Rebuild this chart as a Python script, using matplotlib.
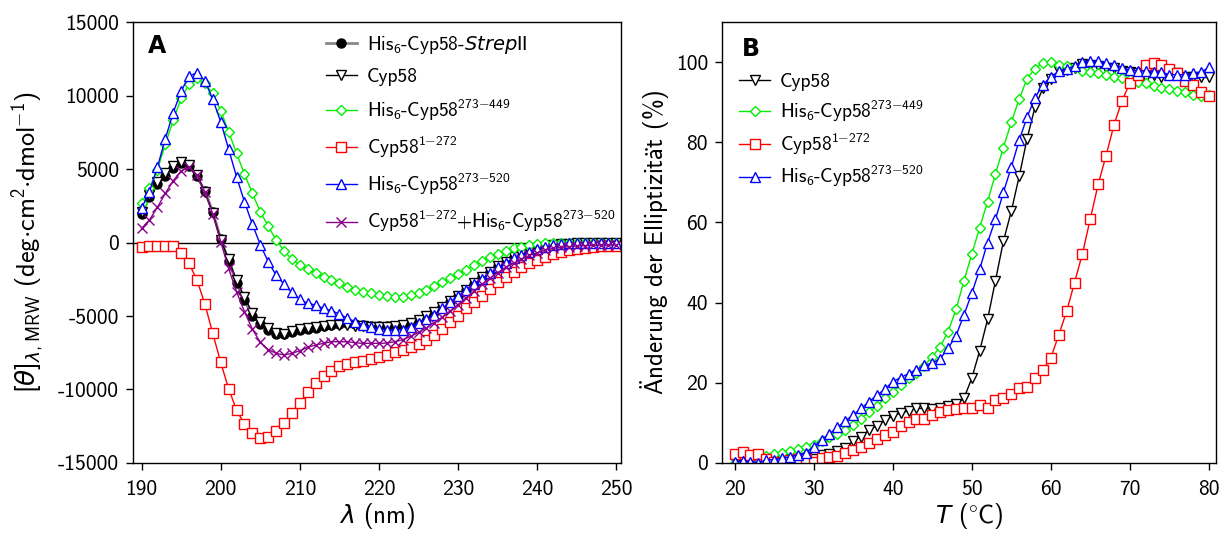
import warnings
import numpy as np
import matplotlib
matplotlib.use("Agg")
import matplotlib.pyplot as plt

warnings.filterwarnings("ignore")

# CM sans for text, DejaVu as fallback for missing glyphs
plt.rcParams["font.family"] = ["cmss10", "DejaVu Sans"]
plt.rcParams["mathtext.fontset"] = "custom"
plt.rcParams["mathtext.rm"] = "cmss10"
plt.rcParams["mathtext.sf"] = "cmss10"
plt.rcParams["mathtext.it"] = "DejaVu Sans:italic"
plt.rcParams["mathtext.fallback"] = "cm"
plt.rcParams["axes.unicode_minus"] = False

# ---- panel A: CD spectra ----
wl = np.arange(190, 251)

strep = [1950, 3100, 3950, 4500, 5100, 5400, 5200, 4500, 3500, 2100,
         250, -1250, -2750, -3900, -5000, -5550, -5950, -6250, -6250, -6100,
         -5950, -5850, -5800, -5700, -5600, -5550, -5500, -5550, -5600, -5650,
         -5700, -5700, -5700, -5600, -5450, -5250, -5050, -4750, -4420, -4030,
         -3650, -3220, -2800, -2350, -1990, -1600, -1310, -1010, -780, -580,
         -420, -290, -190, -120, -80, -60, -50, -40, -30, -30, -30]
cyp58 = [2100, 3200, 4100, 4700, 5200, 5450, 5250, 4600, 3450, 2000,
         200, -1150, -2550, -3700, -4800, -5400, -5800, -6150, -6200, -6050,
         -5900, -5800, -5750, -5650, -5600, -5600, -5600, -5650, -5700, -5750,
         -5750, -5750, -5700, -5600, -5450, -5250, -5000, -4700, -4370, -4000,
         -3620, -3200, -2780, -2350, -1980, -1600, -1300, -1000, -780, -580,
         -420, -290, -190, -110, -70, -50, -40, -30, -20, -20, -20]
c449 = [2670, 3690, 4930, 6680, 8330, 9810, 10760, 11170, 10830, 10150,
        8970, 7540, 6070, 4660, 3350, 2100, 1120, 170, -560, -1140,
        -1530, -1820, -2050, -2330, -2550, -2780, -3000, -3230, -3350, -3410,
        -3570, -3630, -3710, -3690, -3570, -3430, -3210, -2980, -2700, -2400,
        -2130, -1850, -1560, -1260, -1010, -780, -580, -400, -290, -170,
        -100, -60, -40, -30, -20, -10, 0, 0, 0, 0, 0]
c272 = [-300, -250, -250, -230, -250, -690, -1420, -2550, -4180, -6180,
        -8150, -9940, -11400, -12350, -12980, -13300, -13210, -12850, -12300, -11620,
        -10900, -10190, -9580, -9080, -8720, -8400, -8290, -8110, -8040, -7950,
        -7770, -7650, -7450, -7300, -7120, -6900, -6650, -6290, -5870, -5440,
        -4970, -4480, -4040, -3620, -3190, -2710, -2330, -1990, -1690, -1420,
        -1190, -960, -780, -650, -530, -440, -370, -290, -240, -220, -220]
c520 = [2330, 3460, 5110, 7060, 8830, 10300, 11330, 11550, 11010, 9740,
        8220, 6360, 4480, 2780, 1250, -140, -1300, -2220, -2840, -3400,
        -3870, -4140, -4250, -4480, -4640, -4860, -5160, -5390, -5610, -5770,
        -5910, -5950, -5980, -5920, -5730, -5460, -5200, -4930, -4480, -4030,
        -3640, -3210, -2790, -2460, -2100, -1690, -1370, -1080, -850, -630,
        -440, -290, -170, -100, -60, -40, -20, -10, 0, 0, 0]
mix = [960, 1530, 2390, 3350, 4200, 4880, 5110, 4590, 3460, 1940,
       60, -1760, -3350, -4700, -5900, -6780, -7280, -7540, -7650, -7540,
       -7360, -7130, -6970, -6860, -6750, -6750, -6750, -6820, -6860, -6860,
       -6860, -6840, -6750, -6610, -6380, -6120, -5800, -5450, -5070, -4650,
       -4220, -3760, -3310, -2840, -2440, -2050, -1690, -1420, -1140, -870,
       -690, -510, -400, -330, -290, -240, -220, -190, -170, -170, -170]

# ---- panel B: thermal unfolding ----
temp = np.arange(20, 81)

b_cyp58 = [0.5, 0.8, 0.5, 0.8, 0.5, 0.8, 1.0, 1.0, 1.0, 1.2,
           1.0, 1.9, 2.2, 3.0, 3.8, 5.5, 6.6, 8.2, 9.3, 10.6,
           11.7, 12.5, 13.0, 13.6, 13.6, 13.4, 13.6, 14.2, 14.6, 16.1,
           21.1, 28.0, 35.8, 45.5, 55.3, 62.8, 71.5, 80.9, 88.8, 93.5,
           95.8, 97.7, 98.0, 98.5, 99.5, 99.4, 99.0, 98.5, 98.5, 97.8,
           97.5, 97.2, 96.4, 96.9, 96.4, 96.9, 97.3, 96.4, 96.2, 96.2, 96.2]
b_449 = [0.0, -0.5, 0.8, 1.3, 1.8, 2.2, 2.5, 3.0, 3.5, 4.0,
         4.6, 5.5, 6.4, 7.2, 8.3, 9.4, 11.0, 12.8, 14.2, 16.2,
         17.8, 19.5, 21.2, 22.5, 24.3, 26.5, 29.0, 32.7, 38.3, 45.3,
         52.1, 58.7, 65.2, 72.1, 78.7, 85.0, 90.8, 95.9, 98.4, 99.8,
         100.0, 99.4, 99.0, 98.8, 97.7, 97.5, 97.3, 96.7, 96.3, 96.1,
         95.8, 95.0, 94.8, 94.0, 93.6, 93.3, 92.8, 92.5, 91.9, 91.5, 91.9]
b_272 = [2.2, 2.7, 2.1, 2.3, 1.0, 0.3, 0.1, 0.8, 1.0, 0.9,
         0.3, 1.2, 1.5, 1.8, 2.5, 3.2, 4.0, 5.0, 6.0, 6.9,
         7.8, 9.3, 10.2, 11.0, 11.0, 12.0, 12.6, 13.2, 13.4, 13.6,
         13.8, 14.4, 13.6, 15.7, 16.1, 17.3, 18.6, 19.0, 21.1, 23.2,
         26.2, 31.9, 37.8, 45.0, 52.2, 60.9, 69.6, 76.7, 84.4, 90.3,
         94.8, 96.7, 99.2, 99.8, 99.4, 98.2, 97.3, 95.3, 94.2, 92.5, 91.5]
b_520 = [0.3, 0.5, 0.3, 0.1, 0.8, 0.8, 1.3, 1.5, 2.0, 2.6,
         4.0, 5.8, 7.3, 8.9, 10.5, 12.0, 13.6, 15.3, 16.9, 18.4,
         20.3, 21.3, 22.3, 23.3, 24.4, 24.9, 26.0, 28.6, 31.7, 36.9,
         42.3, 48.3, 55.0, 60.8, 67.5, 73.8, 80.5, 86.3, 91.1, 94.4,
         96.3, 97.7, 98.3, 99.0, 100.0, 100.3, 100.3, 99.8, 99.4, 98.6,
         98.0, 97.8, 97.8, 97.6, 97.5, 96.9, 96.9, 96.9, 97.2, 97.5, 98.7]

lab_strep = r"His$_{\mathsf{6}}$-Cyp58-$\mathit{Strep}$II"
lab_cyp = "Cyp58"
lab_449 = r"His$_{\mathsf{6}}$-Cyp58$^{\mathsf{273{-}449}}$"
lab_272 = r"Cyp58$^{\mathsf{1{-}272}}$"
lab_520 = r"His$_{\mathsf{6}}$-Cyp58$^{\mathsf{273{-}520}}$"
lab_mix = r"Cyp58$^{\mathsf{1{-}272}}$+His$_{\mathsf{6}}$-Cyp58$^{\mathsf{273{-}520}}$"

fig = plt.figure(figsize=(12.3, 5.45), dpi=100)
axA = fig.add_axes([0.108, 0.1505, 0.397, 0.809])
axB = fig.add_axes([0.587, 0.1505, 0.4016, 0.809])

ms = 6.5
lw = 1.0
green = "#00ee00"
axA.axhline(0, color="black", lw=1.0, zorder=1)
axA.plot(wl, strep, color="#888888", lw=2.0, marker="o", ms=ms, mfc="black", mec="black", label=lab_strep)
axA.plot(wl, cyp58, color="black", lw=lw, marker="v", ms=ms, mfc="white", mec="black", label=lab_cyp)
axA.plot(wl, c449, color=green, lw=lw, marker="D", ms=ms - 1, mfc="white", mec=green, label=lab_449)
axA.plot(wl, c272, color="red", lw=lw, marker="s", ms=ms, mfc="white", mec="red", label=lab_272)
axA.plot(wl, c520, color="blue", lw=lw, marker="^", ms=ms, mfc="white", mec="blue", label=lab_520)
axA.plot(wl, mix, color="#8b008b", lw=lw, marker="x", ms=ms, mec="#8b008b", label=lab_mix)

axA.set_xlim(188.9, 250.6)
axA.set_ylim(-15000, 15000)
axA.set_xticks([190, 200, 210, 220, 230, 240, 250])
axA.set_yticks([-15000, -10000, -5000, 0, 5000, 10000, 15000])
axA.set_xlabel(r"$\lambda$ (nm)", fontsize=18, labelpad=2)
axA.set_ylabel(r"$[\theta]_{\lambda,\mathsf{MRW}}$ (deg${\cdot}$cm$^{\mathsf{2}}{\cdot}$dmol$^{\mathsf{-1}}$)",
               fontsize=19, labelpad=8)
axA.text(0.03, 0.945, "A", transform=axA.transAxes, fontsize=17, fontweight="bold",
         family="DejaVu Sans", va="center")
axA.legend(loc="upper left", bbox_to_anchor=(0.395, 0.973), frameon=False, fontsize=14,
           handlelength=1.6, handletextpad=0.5, labelspacing=0.6, borderaxespad=0, borderpad=0)

axB.plot(temp, b_cyp58, color="black", lw=lw, marker="v", ms=ms, mfc="white", mec="black", label=lab_cyp)
axB.plot(temp, b_449, color=green, lw=lw, marker="D", ms=ms - 1, mfc="white", mec=green, label=lab_449)
axB.plot(temp, b_272, color="red", lw=lw, marker="s", ms=ms, mfc="white", mec="red", label=lab_272)
axB.plot(temp, b_520, color="blue", lw=lw, marker="^", ms=ms, mfc="white", mec="blue", label=lab_520)

axB.set_xlim(18.4, 80.9)
axB.set_ylim(0, 110)
axB.set_xticks([20, 30, 40, 50, 60, 70, 80])
axB.set_yticks([0, 20, 40, 60, 80, 100])
axB.set_xlabel(r"$T$ ($^{\circ}$C)", fontsize=18, labelpad=2)
axB.set_ylabel(r"$\ddot{\mathsf{A}}$nderung der Elliptizit$\ddot{\mathsf{a}}$t (%)", fontsize=18, labelpad=3)
axB.text(0.04, 0.94, "B", transform=axB.transAxes, fontsize=17, fontweight="bold",
         family="DejaVu Sans", va="center")
axB.legend(loc="upper left", bbox_to_anchor=(0.035, 0.885), frameon=False, fontsize=14,
           handlelength=1.6, handletextpad=0.5, labelspacing=0.38, borderaxespad=0, borderpad=0)

for ax in (axA, axB):
    ax.tick_params(direction="out", length=5, width=1, labelsize=15.5, top=False, right=False)
    ax.tick_params(axis="x", pad=7)
    ax.tick_params(axis="y", pad=5)
    for s in ax.spines.values():
        s.set_linewidth(1.0)

fig.savefig("out.png", dpi=100)
